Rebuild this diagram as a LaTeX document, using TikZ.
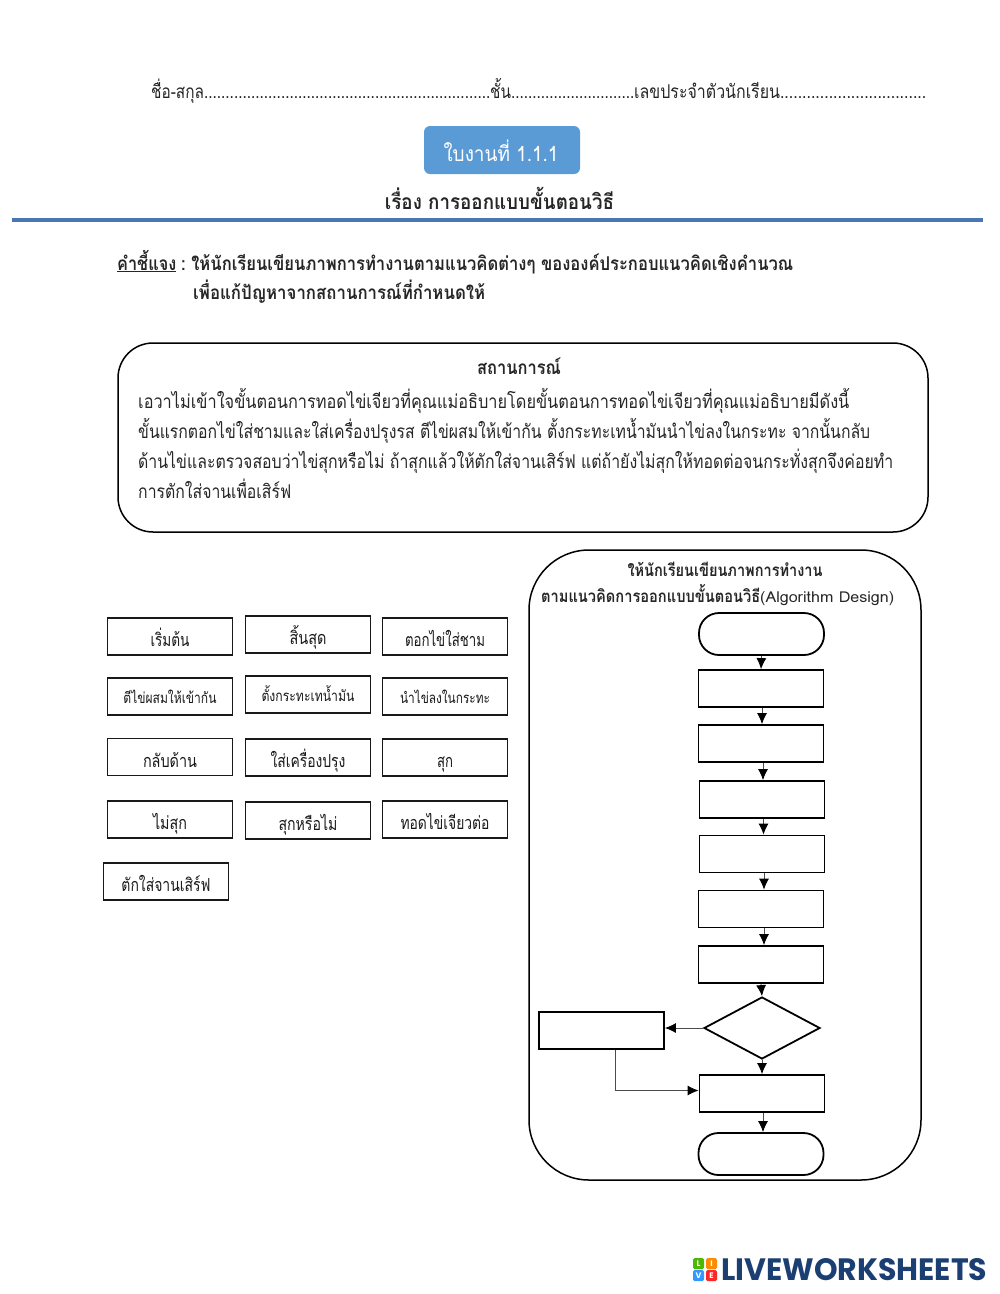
\documentclass[tikz,border=0pt]{standalone}
\usepackage{graphicx}
\usepackage{xcolor}
\usepackage{fontspec}
\usepackage{tikz}
\usetikzlibrary{arrows.meta,shapes.geometric}
\setmainfont[Script=Thai]{Loma}
\newfontfamily\logofont{Poppins}
\definecolor{bleuTitre}{HTML}{5B9BD5}
\definecolor{bleuTrait}{HTML}{4A76B4}
\definecolor{bleuLogo}{HTML}{1B3F72}
% texte ramene a une largeur donnee, hauteur conservee
\newcommand{\Txt}[2]{\resizebox{#1pt}{\height}{#2}}
\begin{document}
\begin{tikzpicture}[x=1pt,y=-1pt]
% Styles
\tikzstyle{fleche}=[-{Latex[length=11pt,width=10pt,black]},line width=.9pt,black!70]
\tikzstyle{texte}=[inner sep=0pt,anchor=base west,font=\fontsize{19}{22}\selectfont,black!85]
\tikzstyle{gras}=[texte,font=\bfseries\fontsize{19}{22}\selectfont]
\tikzstyle{cadre}=[draw,line width=1.5pt,rounded corners=35pt]
\tikzstyle{boite}=[draw,line width=1.8pt,minimum width=125pt,minimum height=37pt,inner sep=0pt,text height=20pt,text depth=0pt,font=\fontsize{18}{20}\selectfont,black!90]
\tikzstyle{petite}=[boite,text height=13pt,font=\fontsize{15}{18}\selectfont]
\tikzstyle{bloc}=[draw,line width=1.8pt,minimum width=125pt,minimum height=37pt,inner sep=0pt]
\tikzstyle{capsule}=[bloc,rounded corners=20pt,minimum height=42pt]
\tikzstyle{losange}=[draw,diamond,line width=1.8pt,minimum width=116pt,minimum height=62pt,inner sep=0pt]
\tikzstyle{carre}=[inner sep=0pt,minimum size=11pt,rounded corners=1.5pt,text=white,font=\logofont\bfseries\fontsize{8}{8}\selectfont]
\useasboundingbox (0,0) rectangle (1000,1294);
% En-tete
\node[texte] (NomA) at (151,98) {\Txt{339}{ชื่อ-สกุล...................................................................}};
\node[texte] (NomB) at (490,98) {\Txt{144}{ชั้น.............................}};
\node[texte] (NomC) at (634,98) {\Txt{292}{เลขประจำตัวนักเรียน.................................}};
\node[fill=bleuTitre,rounded corners=6pt,minimum width=156pt,minimum height=48pt,inner sep=0pt] (Fiche) at (502,150) {};
\node[texte,anchor=base,text=white,font=\fontsize{21}{24}\selectfont] (FicheT) at (501,161) {\Txt{115}{ใบงานที่ 1.1.1}};
\node[gras,anchor=base,font=\bfseries\fontsize{21}{24}\selectfont] (Titre) at (499.5,209) {\Txt{229}{เรื่อง การออกแบบขั้นตอนวิธี}};
\coordinate (TraitA) at (12,220);
\coordinate (TraitB) at (983,220);
\draw[bleuTrait,line width=4pt] (TraitA) -- (TraitB);
% Consigne
\node[gras] (Cons) at (117,270) {\Txt{59}{\underline{คำชี้แจง}}};
\node[gras] (ConsA) at (181,270) {\Txt{612}{:\ ให้นักเรียนเขียนภาพการทำงานตามแนวคิดต่างๆ ขององค์ประกอบแนวคิดเชิงคำนวณ}};
\node[gras] (ConsB) at (193,299) {\Txt{292}{เพื่อแก้ปัญหาจากสถานการณ์ที่กำหนดให้}};
% Situation
\node[cadre,minimum width=810pt,minimum height=189pt,inner sep=0pt] (Situation) at (523,437.5) {};
\node[gras,anchor=base] (SitT) at (519,374) {\Txt{84}{สถานการณ์}};
\node[texte] (SitA) at (138,408) {\Txt{711}{เอวาไม่เข้าใจขั้นตอนการทอดไข่เจียวที่คุณแม่อธิบายโดยขั้นตอนการทอดไข่เจียวที่คุณแม่อธิบายมีดังนี้}};
\node[texte] (SitB) at (138,438) {\Txt{732}{ขั้นแรกตอกไข่ใส่ชามและใส่เครื่องปรุงรส ตีไข่ผสมให้เข้ากัน ตั้งกระทะเทน้ำมันนำไข่ลงในกระทะ จากนั้นกลับ}};
\node[texte] (SitC) at (138,468) {\Txt{755}{ด้านไข่และตรวจสอบว่าไข่สุกหรือไม่ ถ้าสุกแล้วให้ตักใส่จานเสิร์ฟ แต่ถ้ายังไม่สุกให้ทอดต่อจนกระทั่งสุกจึงค่อยทำ}};
\node[texte] (SitD) at (138,498) {\Txt{153}{การตักใส่จานเพื่อเสิร์ฟ}};
% Etiquettes
\node[boite] (Ea) at (170,636.5) {\Txt{39}{เริ่มต้น}};
\node[boite] (Eb) at (308,634.5) {\Txt{37}{สิ้นสุด}};
\node[boite] (Ec) at (445,636.5) {\Txt{80}{ตอกไข่ใส่ชาม}};
\node[petite] (Ed) at (170,696.5) {\Txt{93}{ตีไข่ผสมให้เข้ากัน}};
\node[petite] (Ee) at (308,694.5) {\Txt{93}{ตั้งกระทะเทน้ำมัน}};
\node[petite] (Ef) at (445,696.5) {\Txt{90}{นำไข่ลงในกระทะ}};
\node[boite] (Eg) at (170,757) {\Txt{54}{กลับด้าน}};
\node[boite] (Eh) at (308,757.5) {\Txt{75}{ใส่เครื่องปรุง}};
\node[boite] (Ei) at (445,757.5) {\Txt{16}{สุก}};
\node[boite] (Ej) at (170,819.5) {\Txt{34}{ไม่สุก}};
\node[boite] (Ek) at (308,820.5) {\Txt{59}{สุกหรือไม่}};
\node[boite] (El) at (445,819.5) {\Txt{89}{ทอดไข่เจียวต่อ}};
\node[boite] (Em) at (166,881.5) {\Txt{89}{ตักใส่จานเสิร์ฟ}};
% Logigramme
\node[cadre,rounded corners=60pt,minimum width=392pt,minimum height=630pt,inner sep=0pt] (Panneau) at (725,865) {};
\node[gras,anchor=base,font=\bfseries\fontsize{17}{20}\selectfont] (PanA) at (725,576) {\Txt{195}{ให้นักเรียนเขียนภาพการทำงาน}};
\node[gras,font=\bfseries\fontsize{17}{20}\selectfont] (PanB) at (541,602) {\Txt{219}{ตามแนวคิดการออกแบบขั้นตอนวิธี}};
\node[texte,font=\fontsize{15}{20}\selectfont] (PanC) at (760,602) {\Txt{134}{(Algorithm Design)}};
\node[capsule] (Fa) at (761.5,634) {};
\node[bloc] (Fb) at (761,688.5) {};
\node[bloc] (Fc) at (761,743.5) {};
\node[bloc] (Fd) at (762,799.5) {};
\node[bloc] (Fe) at (762,854) {};
\node[bloc] (Ff) at (761,909) {};
\node[bloc] (Fg) at (761,964.5) {};
\node[losange] (Fh) at (762,1028) {};
\node[bloc] (Fi) at (601.5,1030.5) {};
\node[bloc] (Fj) at (762,1093.5) {};
\node[capsule] (Fk) at (761,1154) {};
% Fleches
\draw[fleche] (Fa.south) -- (Fb.north);
\draw[fleche] ([xshift=1pt]Fb.south) -- ([xshift=1pt]Fc.north);
\draw[fleche] ([xshift=2pt]Fc.south) -- ([xshift=1pt]Fd.north);
\draw[fleche] ([xshift=1.5pt]Fd.south) -- ([xshift=1.5pt]Fe.north);
\draw[fleche] ([xshift=2pt]Fe.south) -- ([xshift=3pt]Ff.north);
\draw[fleche] ([xshift=3pt]Ff.south) -- ([xshift=3pt]Fg.north);
\draw[fleche] (Fg.south) -- (Fh.north);
\draw[fleche] (Fh.west) -- (Fi.east |- Fh.west);
\draw[fleche] (Fh.south) -- (Fj.north);
\draw[fleche] ([xshift=13.5pt]Fi.south) |- ([yshift=3pt]Fj.west);
\draw[fleche] ([xshift=1pt]Fj.south) -- ([xshift=2pt]Fk.north);
% Logo
\node[carre,fill=green!60!black!70!yellow] (Lg) at (698.5,1263.5) {L};
\node[carre,fill=orange!90!yellow] (Li) at (711.5,1263.5) {I};
\node[carre,fill=blue!50!cyan!80] (Lv) at (698.5,1275.5) {V};
\node[carre,fill=red!80!pink] (Le) at (711.5,1275.5) {E};
\node[inner sep=0pt,anchor=west,text=bleuLogo] (Logo) at (721,1269.5) {\resizebox{266pt}{22pt}{\logofont\bfseries LIVEWORKSHEETS}};
\end{tikzpicture}
\end{document}
